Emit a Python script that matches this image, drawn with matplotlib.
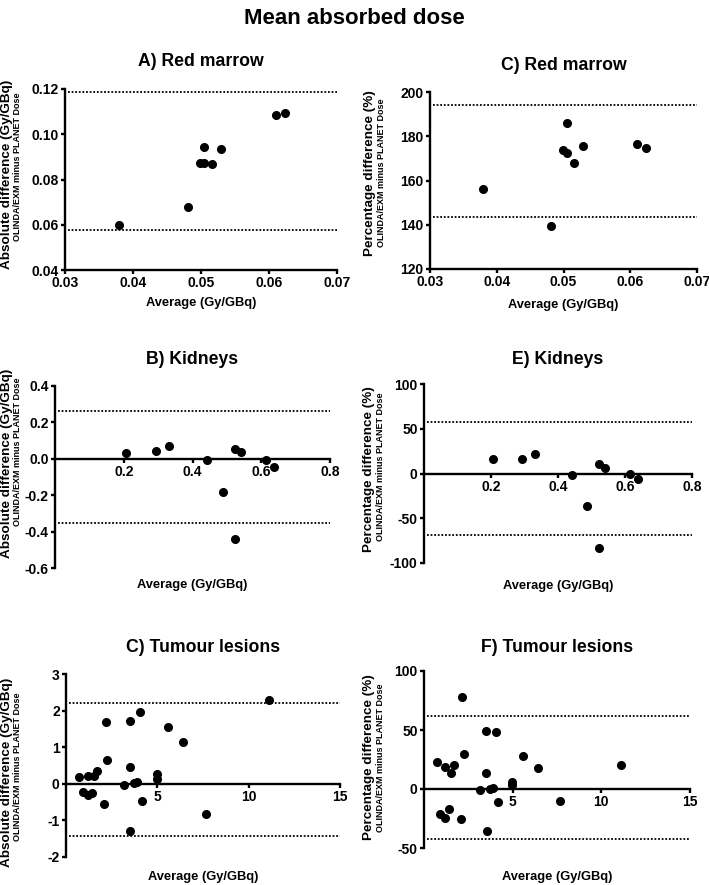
import numpy as np
import matplotlib
matplotlib.use('Agg')
from matplotlib import pyplot as plt
from matplotlib.ticker import FormatStrFormatter

plt.rcParams['font.family'] = ['Liberation Sans', 'DejaVu Sans']
plt.rcParams['font.weight'] = 'bold'
plt.rcParams['axes.unicode_minus'] = False

W, H = 709, 885

# Red marrow (averages in Gy/GBq)
marrow_avg = [0.0380, 0.0481, 0.0499, 0.0505, 0.0505, 0.0516, 0.0529, 0.0610, 0.0624]
marrow_abs = [0.0598, 0.0677, 0.0874, 0.0872, 0.0943, 0.0869, 0.0934, 0.1083, 0.1095]
marrow_pct = [156.3, 139.5, 173.7, 172.5, 185.9, 167.7, 175.5, 176.7, 174.6]
marrow_abs_limits = [0.1185, 0.0577]
marrow_pct_limits = [194.3, 143.7]

# Kidneys
kidney_avg = [0.206, 0.293, 0.332, 0.441, 0.488, 0.523, 0.541, 0.523, 0.614, 0.638]
kidney_abs = [0.033, 0.045, 0.070, -0.008, -0.184, 0.052, 0.037, -0.442, -0.005, -0.043]
kidney_pct = [16.4, 16.0, 22.0, -1.5, -36.6, 10.4, 6.7, -83.6, -0.7, -6.3]
kidney_abs_limits = [0.263, -0.355]
kidney_pct_limits = [57.1, -68.7]

# Tumour lesions
tumour_avg = [0.72, 0.92, 1.21, 1.20, 1.41, 1.51, 1.71, 2.17, 2.25, 2.09, 3.16, 3.48,
              3.51, 3.53, 3.74, 3.87, 4.04, 4.15, 4.98, 4.98, 5.56, 6.42, 7.69, 11.1]
tumour_abs = [0.18, -0.22, 0.21, -0.31, -0.25, 0.22, 0.34, 1.70, 0.66, -0.55, -0.03, 1.71,
              0.46, -1.29, 0.01, 0.04, 1.95, -0.48, 0.27, 0.14, 1.54, 1.15, -0.82, 2.28]
tumour_pct = [23.1, -21.2, 18.3, -24.8, -16.6, 13.8, 20.6, 78.1, 29.3, -25.4, -1.1, 49.1,
              13.5, -35.5, 0.0, 0.8, 47.9, -11.3, 5.6, 3.1, 27.9, 17.8, -10.4, 20.6]
tumour_abs_limits = [2.20, -1.42]
tumour_pct_limits = [61.5, -42.6]

ABS_LABEL = 'Absolute difference (Gy/GBq)'
PCT_LABEL = 'Percentage difference (%)'
SUB_LABEL = 'OLINDA/EXM minus PLANET Dose'

panels = [
    dict(title='A) Red marrow', x=marrow_avg, y=marrow_abs, lim=marrow_abs_limits,
         box=(65, 337, 89, 270), xlim=(0.03, 0.07), ylim=(0.04, 0.12),
         xticks=[0.03, 0.04, 0.05, 0.06, 0.07], yticks=[0.04, 0.06, 0.08, 0.10, 0.12],
         xfmt='%.2f', yfmt='%.2f', zero=False, ylab=ABS_LABEL, lab_x=(7, 18), lab_y=(174, 167)),
    dict(title='C) Red marrow', x=marrow_avg, y=marrow_pct, lim=marrow_pct_limits,
         box=(430, 697, 92, 269), xlim=(0.03, 0.07), ylim=(120, 200),
         xticks=[0.03, 0.04, 0.05, 0.06, 0.07], yticks=[120, 140, 160, 180, 200],
         xfmt='%.2f', yfmt='%d', zero=False, ylab=PCT_LABEL, lab_x=(370, 381), lab_y=(173, 173)),
    dict(title='B) Kidneys', x=kidney_avg, y=kidney_abs, lim=kidney_abs_limits,
         box=(55, 330, 386, 568), xlim=(0, 0.8), ylim=(-0.6, 0.4),
         xticks=[0.2, 0.4, 0.6, 0.8], yticks=[-0.6, -0.4, -0.2, 0.0, 0.2, 0.4],
         xfmt='%.1f', yfmt='%.1f', zero=True, ylab=ABS_LABEL, lab_x=(7, 18), lab_y=(463, 452)),
    dict(title='E) Kidneys', x=kidney_avg, y=kidney_pct, lim=kidney_pct_limits,
         box=(424, 692, 384, 563), xlim=(0, 0.8), ylim=(-100, 100),
         xticks=[0.2, 0.4, 0.6, 0.8], yticks=[-100, -50, 0, 50, 100],
         xfmt='%.1f', yfmt='%d', zero=True, ylab=PCT_LABEL, lab_x=(369, 380), lab_y=(469, 467)),
    dict(title='C) Tumour lesions', x=tumour_avg, y=tumour_abs, lim=tumour_abs_limits,
         box=(66, 340, 674, 857), xlim=(0, 15), ylim=(-2, 3),
         xticks=[5, 10, 15], yticks=[-2, -1, 0, 1, 2, 3],
         xfmt='%d', yfmt='%d', zero=True, ylab=ABS_LABEL, lab_x=(7, 18), lab_y=(772, 767)),
    dict(title='F) Tumour lesions', x=tumour_avg, y=tumour_pct, lim=tumour_pct_limits,
         box=(424, 690, 671, 848), xlim=(0, 15), ylim=(-50, 100),
         xticks=[5, 10, 15], yticks=[-50, 0, 50, 100],
         xfmt='%d', yfmt='%d', zero=True, ylab=PCT_LABEL, lab_x=(369, 380), lab_y=(757, 758)),
]

title_y = {89: 62, 92: 65, 386: 359, 384: 359, 674: 647, 671: 647}
xlab_y = {89: 303, 92: 305, 386: 585, 384: 586, 674: 877, 671: 877}

fig = plt.figure(figsize=(W / 100, H / 100), dpi=100)
fig.text(354 / W, 1 - 18 / H, 'Mean absorbed dose', ha='center', va='center',
         fontsize=16, fontweight='bold')

for p in panels:
    x0, x1, y0, y1 = p['box']
    ax = fig.add_axes([x0 / W, 1 - y1 / H, (x1 - x0) / W, (y1 - y0) / H])
    ax.plot(p['x'], p['y'], 'o', color='black', ms=5.5, clip_on=False, zorder=3)
    for v in p['lim']:
        ax.axhline(v, color='black', lw=1.3, ls=(0, (1, 1)), xmin=0.01)
    ax.set_xlim(*p['xlim'])
    ax.set_ylim(*p['ylim'])
    ax.set_xticks(p['xticks'])
    ax.set_yticks(p['yticks'])
    ax.xaxis.set_major_formatter(FormatStrFormatter(p['xfmt']))
    ax.yaxis.set_major_formatter(FormatStrFormatter(p['yfmt']))
    for s in ['top', 'right']:
        ax.spines[s].set_visible(False)
    for s in ['left', 'bottom']:
        ax.spines[s].set_linewidth(1.7)
    if p['zero']:
        ax.spines['bottom'].set_position(('data', 0))
    ax.tick_params(width=1.7, length=3, labelsize=10, pad=1.5)
    for lbl in ax.get_xticklabels() + ax.get_yticklabels():
        lbl.set_fontweight('bold')

    cx = (x0 + x1) / 2
    fig.text(cx / W, 1 - title_y[y0] / H, p['title'], ha='center', va='center',
             fontsize=12.7, fontweight='bold')
    fig.text(cx / W, 1 - xlab_y[y0] / H, 'Average (Gy/GBq)', ha='center', va='center',
             fontsize=9.3, fontweight='bold')
    fig.text(p['lab_x'][0] / W, 1 - p['lab_y'][0] / H, p['ylab'], rotation=90,
             ha='center', va='center', fontsize=9.7, fontweight='bold')
    fig.text(p['lab_x'][1] / W, 1 - p['lab_y'][1] / H, SUB_LABEL, rotation=90,
             ha='center', va='center', fontsize=6.5, fontweight='bold')

fig.savefig('out.png', dpi=100)
